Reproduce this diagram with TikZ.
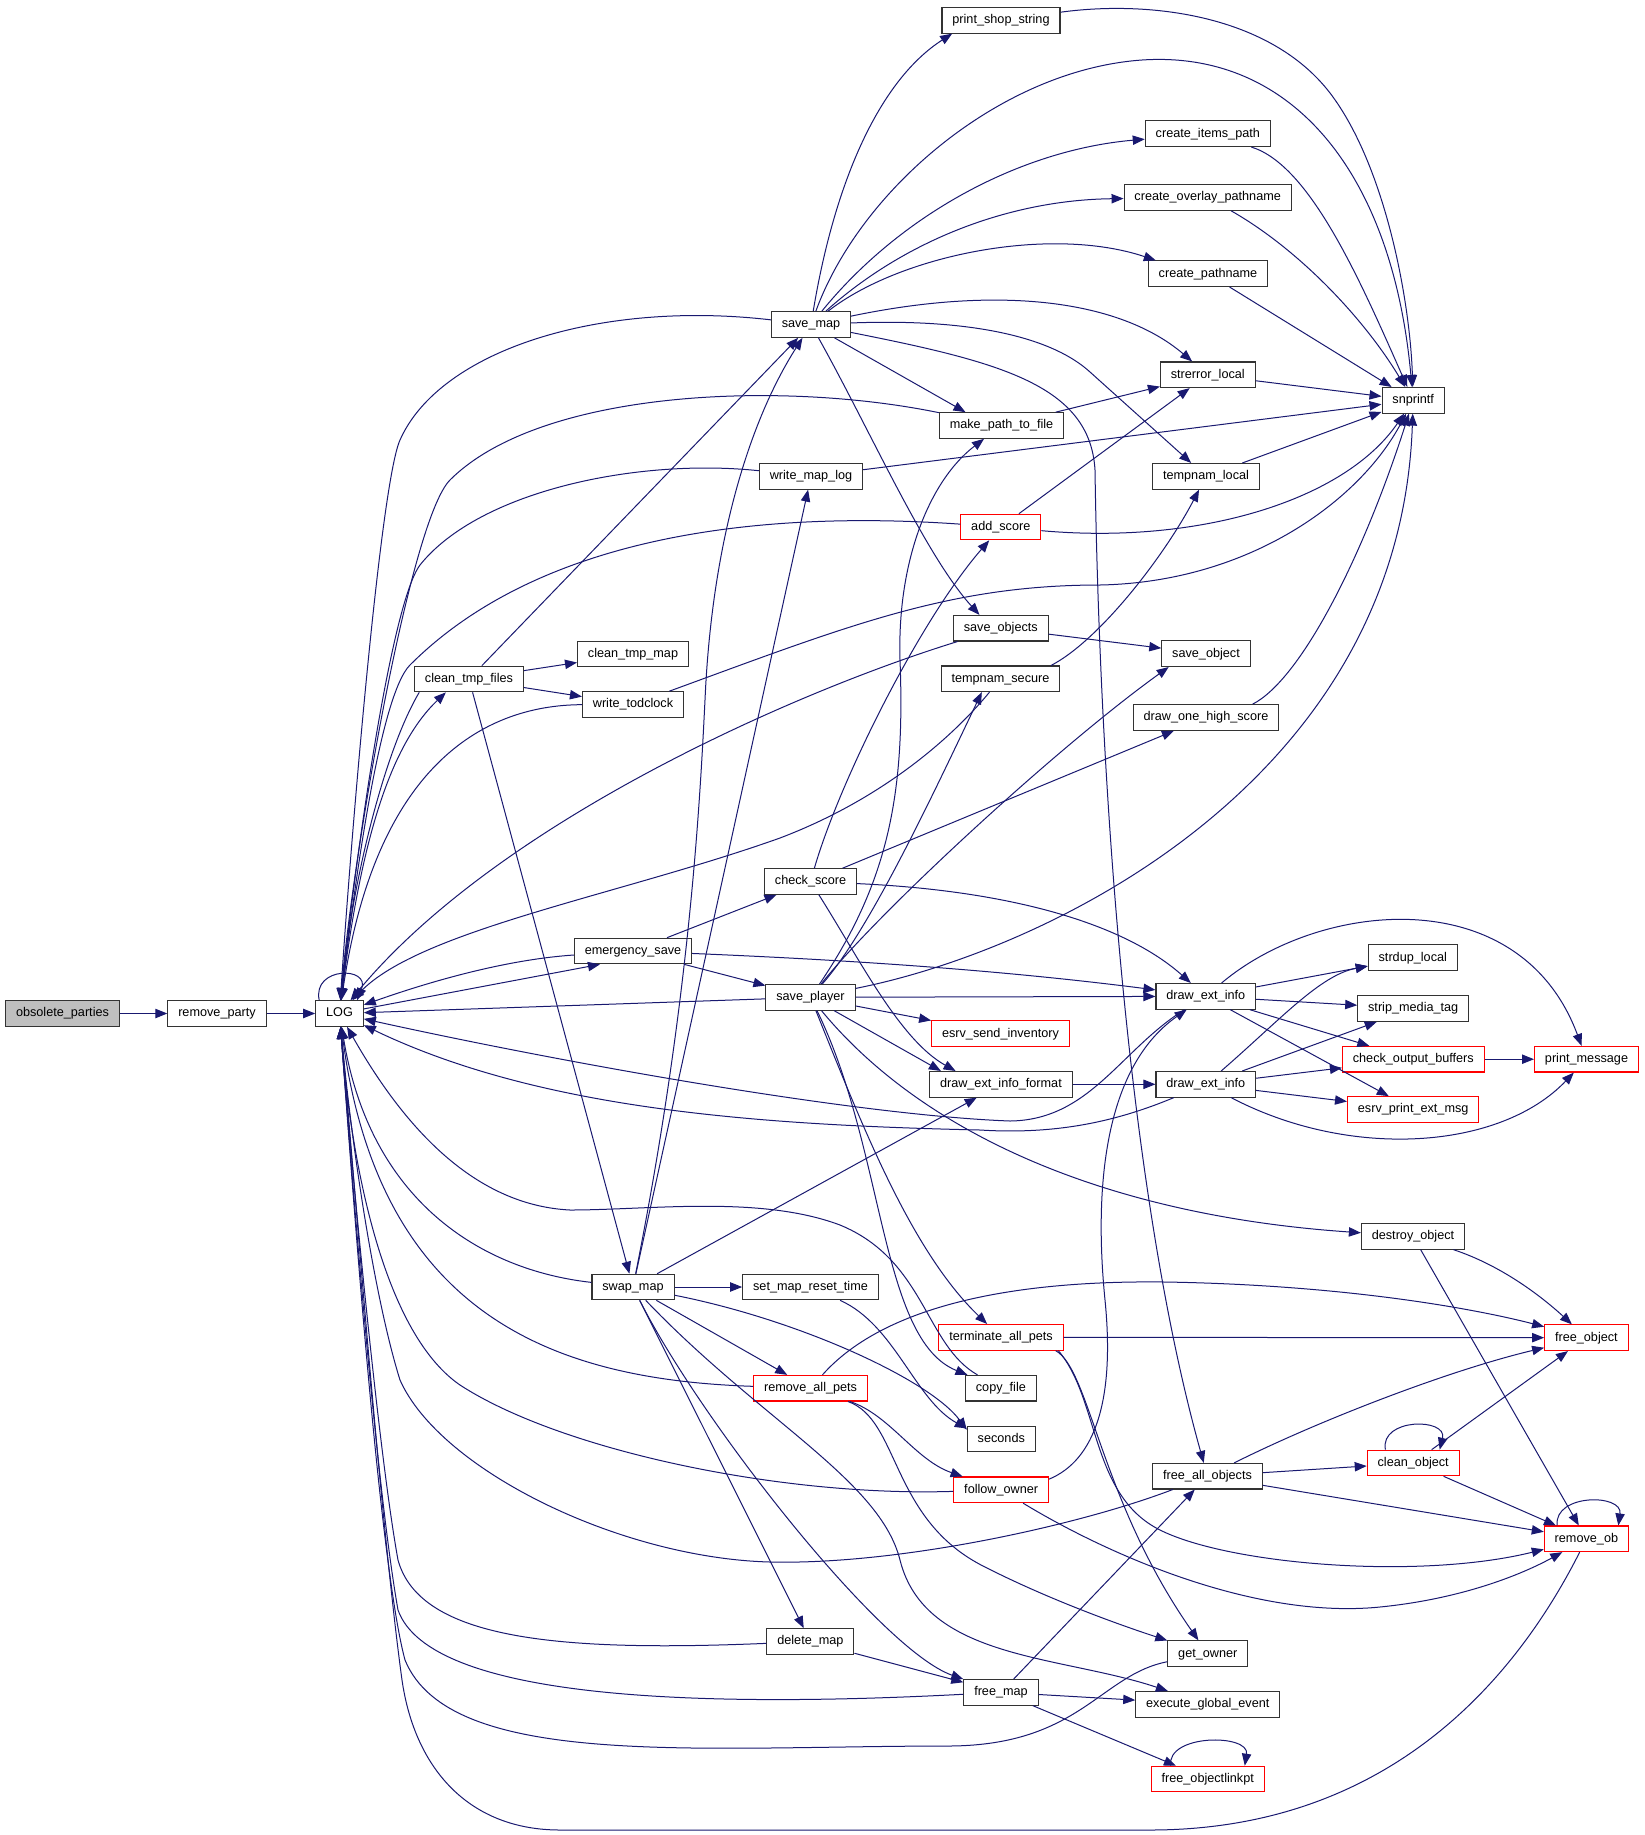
\documentclass[tikz,border=0pt]{standalone}
\usepackage{fontspec}
\setmainfont{Liberation Sans}
\usetikzlibrary{arrows.meta}
\definecolor{edgeblue}{HTML}{191970}
\definecolor{rootgray}{HTML}{BFBFBF}
\begin{document}
\begin{tikzpicture}[
    x=0.75pt, y=-0.75pt,
    func/.style={draw=black!80, line width=0.8pt, fill=white,
      font=\fontsize{9.5}{11}\selectfont, text height=7pt, text depth=2pt,
      inner xsep=7.8pt, inner ysep=0pt, minimum height=19.2pt},
    funcred/.style={func, draw=red},
    funcroot/.style={func, fill=rootgray},
    call/.style={draw=edgeblue, line width=0.75pt, -{Triangle[length=9pt,width=7pt]}}]
  \fill[white] (0,0) rectangle (1645,1835);
  \useasboundingbox (0,0) rectangle (1645,1835);
  % functions, column by column
  \node [funcroot] (obs) at (62.5,1013.5) {obsolete\_parties};
  \node [func] (rparty) at (217,1013.5) {remove\_party};
  \node [func] (LOG) at (339.5,1013.5) {LOG};
  \node [func] (ctf) at (469,679) {clean\_tmp\_files};
  \node [func] (ctm) at (633,654) {clean\_tmp\_map};
  \node [func] (wtc) at (633,704.5) {write\_todclock};
  \node [func] (esave) at (633,951) {emergency\_save};
  \node [func] (swap) at (633,1287) {swap\_map};
  \node [func] (smap) at (811,324.5) {save\_map};
  \node [func] (wml) at (811,476.3) {write\_map\_log};
  \node [func] (cscore) at (810.5,881.5) {check\_score};
  \node [func] (splayer) at (810.5,997.3) {save\_player};
  \node [func] (smrt) at (810.5,1287) {set\_map\_reset\_time};
  \node [funcred] (rap) at (810.6,1388.2) {remove\_all\_pets};
  \node [func] (dmap) at (810.4,1641.5) {delete\_map};
  \node [func] (pss) at (1001,20.3) {print\_shop\_string};
  \node [func] (mptf) at (1001.5,425.5) {make\_path\_to\_file};
  \node [funcred] (ascore) at (1000.8,527) {add\_score};
  \node [func] (sobjs) at (1000.8,628.2) {save\_objects};
  \node [func] (tsec) at (1000.5,678.8) {tempnam\_secure};
  \node [funcred] (esi) at (1000.5,1033.7) {esrv\_send\_inventory};
  \node [func] (deif) at (1000.9,1084.3) {draw\_ext\_info\_format};
  \node [funcred] (tap) at (1001,1337.3) {terminate\_all\_pets};
  \node [func] (cfile) at (1000.9,1388.2) {copy\_file};
  \node [func] (secs) at (1001.3,1439) {seconds};
  \node [funcred] (fowner) at (1001.2,1489.8) {follow\_owner};
  \node [func] (fmap) at (1001,1692.3) {free\_map};
  \node [func] (cip) at (1207.8,133.7) {create\_items\_path};
  \node [func] (cop) at (1207.7,197.5) {create\_overlay\_pathname};
  \node [func] (cpn) at (1208,273.7) {create\_pathname};
  \node [func] (strerr) at (1207.8,374.8) {strerror\_local};
  \node [func] (tloc) at (1206,476.3) {tempnam\_local};
  \node [func] (sobj) at (1206,653.7) {save\_object};
  \node [func] (dohs) at (1206,717.5) {draw\_one\_high\_score};
  \node [func] (dei) at (1205.8,996.3) {draw\_ext\_info};
  \node [func] (deib) at (1205.8,1084.3) {draw\_ext\_info};
  \node [func] (fao) at (1207.5,1476.2) {free\_all\_objects};
  \node [func] (gowner) at (1207.8,1653.7) {get\_owner};
  \node [func] (ege) at (1207.8,1704.3) {execute\_global\_event};
  \node [funcred] (fol) at (1207.7,1779) {free\_objectlinkpt};
  \node [func] (snp) at (1413.2,400.3) {snprintf};
  \node [func] (sdup) at (1412.8,957.7) {strdup\_local};
  \node [func] (smt) at (1413.2,1008.5) {strip\_media\_tag};
  \node [funcred] (cob) at (1413.3,1059.2) {check\_output\_buffers};
  \node [funcred] (epem) at (1413.2,1109.5) {esrv\_print\_ext\_msg};
  \node [func] (dobj) at (1413,1236.3) {destroy\_object};
  \node [funcred] (cobj) at (1413.2,1463) {clean\_object};
  \node [funcred] (pmsg) at (1586.5,1059.2) {print\_message};
  \node [funcred] (fobj) at (1586.4,1337.7) {free\_object};
  \node [funcred] (rob) at (1586.4,1538.8) {remove\_ob};

  \draw[call] (obs) -- (rparty);
  \draw[call] (rparty) -- (LOG);
  \draw[call] ([xshift=3pt]LOG.north west) .. controls ([shift={(-3,-34)}]LOG.north west) and ([shift={(7,-34)}]LOG.north east) .. ([xshift=-5pt]LOG.north east);
  \draw[call] (LOG) -- (esave.202);
  \draw[call] (LOG) .. controls (358,860) and (385,750) .. (ctf.210);
  % callers of LOG
  \draw[call] (smap) .. controls (600,300) and (440,350) .. (400,440) .. controls (380,485) and (350,850) .. (LOG);
  \draw[call] (mptf) .. controls (780,380) and (540,390) .. (450,480) .. controls (410,520) and (352,860) .. (LOG);
  \draw[call] (wml) .. controls (640,458) and (480,490) .. (420,565) .. controls (390,605) and (354,870) .. (LOG);
  \draw[call] (ascore) .. controls (760,510) and (540,535) .. (410,665) .. controls (380,695) and (355,880) .. (LOG);
  \draw[call] (ctf.195) .. controls (385,750) and (352,880) .. (LOG);
  \draw[call] (wtc) .. controls (480,705) and (375,770) .. (LOG);
  \draw[call] (sobjs) .. controls (800,690) and (500,820) .. (LOG);
  \draw[call] (tsec) .. controls (950,740) and (880,800) .. (780,838) .. controls (620,895) and (420,930) .. (LOG);
  \draw[call] (esave) .. controls (500,960) and (420,985) .. (LOG);
  \draw[call] (splayer) -- (LOG);
  \draw[call] (dei) .. controls (1120,1050) and (1090,1120) .. (1010,1121) .. controls (850,1115) and (550,1060) .. (LOG);
  \draw[call] (deib) .. controls (1120,1120) and (1060,1135) .. (980,1130) .. controls (760,1125) and (540,1110) .. (LOG);
  \draw[call] (cfile) .. controls (925,1345) and (925,1260) .. (840,1225) .. controls (760,1195) and (650,1210) .. (570,1210) .. controls (470,1205) and (400,1120) .. (LOG);
  \draw[call] (swap) .. controls (480,1270) and (370,1200) .. (LOG);
  \draw[call] (rap) .. controls (560,1380) and (380,1320) .. (LOG);
  \draw[call] (fowner) .. controls (780,1497) and (560,1450) .. (460,1385) .. controls (380,1330) and (350,1150) .. (LOG);
  \draw[call] (fao) .. controls (1080,1525) and (900,1565) .. (770,1562) .. controls (620,1558) and (440,1470) .. (400,1380) .. controls (375,1300) and (352,1150) .. (LOG);
  \draw[call] (dmap) .. controls (560,1652) and (420,1640) .. (398,1560) .. controls (378,1450) and (350,1150) .. (LOG);
  \draw[call] (fmap) .. controls (700,1708) and (430,1700) .. (398,1610) .. controls (375,1480) and (350,1150) .. (LOG);
  \draw[call] (gowner) .. controls (1100,1675) and (1080,1745) .. (950,1746) .. controls (700,1746) and (450,1770) .. (405,1660) .. controls (378,1560) and (350,1150) .. (LOG);
  \draw[call] (rob) .. controls (1510,1690) and (1380,1830) .. (1150,1830) -- (560,1830) .. controls (470,1830) and (415,1770) .. (402,1680) .. controls (380,1520) and (352,1150) .. (LOG);
  % clean_tmp_files, emergency_save, check_score
  \draw[call] (ctf) -- (smap);
  \draw[call] (ctf) -- (ctm);
  \draw[call] (ctf) -- (wtc);
  \draw[call] (ctf) -- (swap);
  \draw[call] (esave) -- (cscore);
  \draw[call] (esave) -- (splayer);
  \draw[call] (esave) .. controls (850,960) and (1000,970) .. (dei);
  \draw[call] (cscore) .. controls (840,780) and (920,620) .. (ascore);
  \draw[call] (cscore) -- (dohs);
  \draw[call] (cscore) .. controls (1000,890) and (1120,920) .. (dei);
  \draw[call] (cscore) .. controls (860,960) and (900,1040) .. ([xshift=-34pt]deif.north);
  % save_player
  \draw[call] (splayer) .. controls (890,880) and (905,790) .. (900,660) .. controls (897,560) and (930,480) .. (mptf);
  \draw[call] (splayer) .. controls (870,930) and (935,790) .. ([xshift=-14pt]tsec.south);
  \draw[call] (splayer) .. controls (880,910) and (1060,745) .. ([xshift=-28pt]sobj.south);
  \draw[call] (splayer) .. controls (1050,950) and (1400,780) .. (snp);
  \draw[call] (splayer) -- (dei);
  \draw[call] (splayer) -- (esi);
  \draw[call] (splayer) -- ([xshift=-45pt]deif.north);
  \draw[call] (splayer) .. controls (920,1130) and (1100,1215) .. (dobj);
  \draw[call] (splayer) .. controls (860,1120) and (910,1250) .. (tap);
  \draw[call] (splayer) .. controls (885,1150) and (880,1340) .. (cfile);
  % swap_map
  \draw[call] (swap) .. controls (690,1000) and (700,800) .. (705,700) .. controls (712,540) and (750,420) .. (smap);
  \draw[call] (swap) -- (wml);
  \draw[call] (swap) -- (deif);
  \draw[call] (swap) -- (smrt);
  \draw[call] (swap) -- (rap);
  \draw[call] (swap) .. controls (800,1320) and (930,1380) .. (secs.165);
  \draw[call] (swap) -- (dmap);
  \draw[call] (swap) .. controls (700,1420) and (880,1650) .. (fmap);
  \draw[call] (swap) .. controls (760,1420) and (880,1480) .. (900,1560) .. controls (925,1660) and (1060,1655) .. (ege);
  \draw[call] (smrt) .. controls (895,1325) and (915,1400) .. (secs.163);
  % save_map
  \draw[call] (smap) .. controls (835,180) and (880,80) .. ([xshift=8pt]pss.south west);
  \draw[call] (smap) .. controls (860,190) and (1000,70) .. (1142,60) .. controls (1290,50) and (1392,170) .. (snp);
  \draw[call] (smap) .. controls (900,215) and (1020,150) .. (cip);
  \draw[call] (smap) .. controls (905,240) and (1010,200) .. (cop);
  \draw[call] (smap) .. controls (900,255) and (1050,225) .. ([xshift=6pt]cpn.north west);
  \draw[call] (smap) .. controls (1000,285) and (1120,300) .. (strerr);
  \draw[call] (smap) .. controls (980,318) and (1055,340) .. (1090,372) -- (tloc);
  \draw[call] (smap) .. controls (1000,362) and (1090,385) .. (1095,470) .. controls (1100,800) and (1130,1200) .. (fao);
  \draw[call] (smap) -- ([xshift=-27pt]mptf.north);
  \draw[call] (smap) .. controls (870,430) and (925,555) .. ([xshift=-16pt]sobjs.north);
  % into snprintf
  \draw[call] (pss) .. controls (1150,0) and (1270,15) .. (1330,93) .. controls (1385,165) and (1410,300) .. (snp);
  \draw[call] (cip) .. controls (1310,165) and (1360,280) .. (snp);
  \draw[call] (cop) .. controls (1300,250) and (1365,320) .. (snp);
  \draw[call] (cpn) -- (snp);
  \draw[call] (strerr) -- (snp);
  \draw[call] (wml) -- (snp);
  \draw[call] (tloc) -- (snp);
  \draw[call] (ascore) .. controls (1200,545) and (1345,500) .. (snp);
  \draw[call] (wtc) .. controls (850,625) and (950,585) .. (1100,585) .. controls (1250,582) and (1360,500) .. (snp);
  \draw[call] ([xshift=-20pt]dohs.north east) .. controls (1300,680) and (1362,560) .. (snp);
  \draw[call] (mptf) -- (strerr);
  \draw[call] (ascore) -- (strerr);
  \draw[call] ([xshift=-7pt]tsec.north east) .. controls (1100,640) and (1165,555) .. (tloc);
  \draw[call] (sobjs) -- (sobj);
  % draw_ext_info
  \draw[call] (deif) -- (deib);
  \draw[call] (dei) -- (sdup);
  \draw[call] (dei) -- (smt);
  \draw[call] (dei) -- (cob);
  \draw[call] (dei) -- (epem);
  \draw[call] (dei) .. controls (1320,900) and (1520,880) .. (pmsg);
  \draw[call] (deib) .. controls (1280,1020) and (1320,975) .. (sdup);
  \draw[call] (deib) -- (smt);
  \draw[call] (deib) -- (cob);
  \draw[call] (deib) -- (epem);
  \draw[call] (deib) .. controls (1350,1160) and (1500,1150) .. (pmsg);
  \draw[call] (cob) -- (pmsg);
  % objects and pets
  \draw[call] (dobj) .. controls (1500,1265) and (1540,1295) .. (fobj);
  \draw[call] (dobj) -- (rob);
  \draw[call] (tap) -- (fobj);
  \draw[call] ([xshift=-6pt]tap.south east) .. controls (1090,1370) and (1100,1500) .. (gowner);
  \draw[call] ([xshift=-4pt]tap.south east) .. controls (1100,1400) and (1090,1495) .. (1160,1530) .. controls (1230,1565) and (1420,1580) .. (rob);
  \draw[call] (rap) .. controls (880,1310) and (1000,1280) .. (1165,1282) .. controls (1350,1285) and (1480,1310) .. (fobj);
  \draw[call] (rap) .. controls (890,1415) and (915,1460) .. (fowner);
  \draw[call] (rap) .. controls (900,1420) and (890,1520) .. (985,1567) .. controls (1050,1600) and (1120,1625) .. (gowner);
  \draw[call] ([yshift=-2pt]fowner.north east) .. controls (1095,1460) and (1115,1400) .. (1105,1300) .. controls (1095,1200) and (1100,1070) .. (dei);
  \draw[call] (fowner) .. controls (1100,1550) and (1250,1620) .. (1380,1607) .. controls (1470,1598) and (1530,1570) .. (rob);
  \draw[call] (fao) .. controls (1320,1420) and (1450,1370) .. (fobj);
  \draw[call] (fao) -- (cobj);
  \draw[call] (fao) -- (rob);
  \draw[call] (cobj) -- (fobj);
  \draw[call] (cobj) -- (rob);
  \draw[call] ([xshift=14pt]cobj.north west) .. controls ([shift={(13,-32)}]cobj.north west) and ([shift={(-12,-32)}]cobj.north east) .. ([xshift=-15pt]cobj.north east);
  \draw[call] ([xshift=10pt]rob.north west) .. controls ([shift={(10,-32)}]rob.north west) and ([shift={(-6,-32)}]rob.north east) .. ([xshift=-8pt]rob.north east);
  \draw[call] (dmap) -- (fmap);
  \draw[call] (fmap) -- (fao);
  \draw[call] (fmap) -- (ege);
  \draw[call] (fmap) -- (fol);
  \draw[call] ([xshift=15pt]fol.north west) .. controls ([shift={(16,-32)}]fol.north west) and ([shift={(-15,-32)}]fol.north east) .. ([xshift=-15pt]fol.north east);
\end{tikzpicture}
\end{document}
